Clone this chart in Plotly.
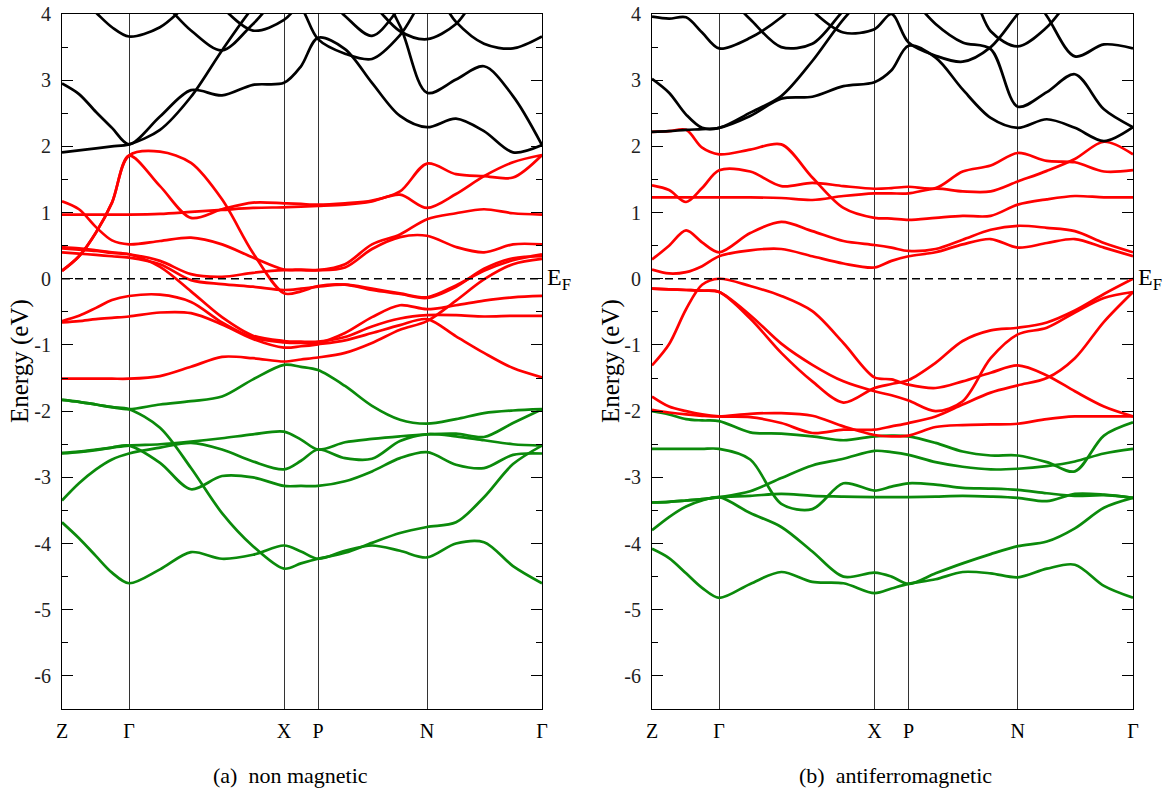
import plotly.graph_objects as go

# ---------------- k-path (common grid, arbitrary k-distance units) ----------------
K = [0, 17, 34, 50, 67, 98, 129, 160, 191, 222, 239, 256, 283, 310, 338, 365, 394, 422, 451, 480]
kpoint_pos = [0, 67, 222, 256, 365, 480]
kpoint_labels = ["Z", "Γ", "X", "P", "N", "Γ"]
y_tick_vals = [-6, -5, -4, -3, -2, -1, 0, 1, 2, 3, 4]
y_tick_text = ["-6", "-5", "-4", "-3", "-2", "-1", "0", "1", "2", "3", "4"]

# ---------------- (a) non magnetic ----------------
nm_black_1 = [1.91, 1.94, 1.97, 2.00, 2.03, 2.25, 2.75, 3.45, 4.10, 4.60, 4.80, 4.80, 4.80, 4.80, 4.80, 4.80, 4.80, 4.80, 4.80, 4.80]
nm_black_2 = [2.95, 2.79, 2.52, 2.28, 2.03, 2.45, 2.85, 2.77, 2.93, 2.96, 3.21, 3.64, 3.47, 2.96, 2.46, 2.29, 2.42, 2.23, 1.91, 2.02]
nm_black_3 = [4.40, 4.25, 4.02, 3.80, 3.66, 3.80, 4.20, 4.60, 4.60, 4.60, 4.60, 4.60, 4.60, 4.60, 4.60, 4.50, 3.88, 3.55, 3.48, 3.66]
nm_black_4 = [4.60, 4.60, 4.60, 4.55, 4.40, 4.20, 3.75, 3.45, 3.85, 4.30, 4.10, 3.62, 3.40, 3.32, 3.68, 4.30, 4.60, 4.60, 4.60, 4.60]
nm_black_5 = [4.60, 4.60, 4.60, 4.60, 4.60, 4.60, 4.60, 4.60, 4.60, 4.60, 4.60, 4.60, 4.40, 4.15, 3.74, 3.62, 3.85, 4.40, 4.60, 4.60]
nm_black_6 = [4.60, 4.60, 4.60, 4.60, 4.60, 4.60, 4.60, 4.60, 4.60, 4.60, 4.60, 4.60, 4.60, 4.50, 3.82, 2.81, 3.01, 3.21, 2.76, 2.02]
nm_black_7 = [4.60, 4.60, 4.60, 4.60, 4.60, 4.60, 4.60, 4.60, 4.60, 4.60, 4.60, 4.40, 3.97, 3.67, 4.10, 4.60, 4.60, 4.60, 4.60, 4.60]
nm_black_8 = [4.60, 4.60, 4.60, 4.60, 4.60, 4.60, 4.60, 4.10, 3.75, 3.91, 4.20, 4.60, 4.60, 4.60, 4.60, 4.60, 4.60, 4.60, 4.60, 4.60]

nm_red_1 = [0.97, 0.97, 0.97, 0.97, 0.97, 0.98, 1.01, 1.04, 1.07, 1.08, 1.09, 1.10, 1.12, 1.17, 1.27, 1.07, 1.28, 1.55, 1.76, 1.87]
nm_red_2 = [0.12, 0.34, 0.70, 1.15, 1.86, 1.40, 0.92, 1.05, 1.15, 1.14, 1.13, 1.12, 1.14, 1.18, 1.32, 1.74, 1.58, 1.55, 1.53, 1.87]
nm_red_3 = [0.12, 0.34, 0.70, 1.15, 1.86, 1.92, 1.75, 1.20, 0.39, -0.22, -0.19, -0.11, -0.09, -0.17, -0.23, -0.29, -0.12, 0.15, 0.31, 0.34]
nm_red_4 = [1.17, 1.05, 0.78, 0.58, 0.52, 0.57, 0.62, 0.52, 0.32, 0.14, 0.14, 0.13, 0.17, 0.45, 0.63, 0.65, 0.48, 0.40, 0.52, 0.52]
nm_red_5 = [0.46, 0.44, 0.42, 0.39, 0.37, 0.27, 0.07, 0.03, 0.09, 0.13, 0.13, 0.13, 0.22, 0.52, 0.67, 0.90, 0.99, 1.05, 0.99, 0.97]
nm_red_6 = [0.40, 0.38, 0.36, 0.34, 0.32, 0.22, -0.02, -0.08, -0.12, -0.17, -0.15, -0.12, -0.09, -0.15, -0.22, -0.28, -0.10, 0.12, 0.28, 0.37]
nm_red_7 = [0.48, 0.46, 0.43, 0.40, 0.37, 0.18, -0.19, -0.58, -0.86, -0.94, -0.95, -0.95, -0.88, -0.72, -0.60, -0.55, -0.55, -0.57, -0.56, -0.56]
nm_red_8 = [-0.64, -0.56, -0.44, -0.32, -0.26, -0.24, -0.35, -0.66, -0.89, -0.96, -0.97, -0.97, -0.82, -0.58, -0.40, -0.46, -0.40, -0.33, -0.28, -0.26]
nm_red_9 = [-0.66, -0.64, -0.61, -0.59, -0.57, -0.51, -0.52, -0.69, -0.91, -1.04, -1.02, -0.99, -0.93, -0.82, -0.70, -0.61, -0.87, -1.12, -1.35, -1.49]
nm_red_10 = [-1.51, -1.51, -1.51, -1.51, -1.51, -1.47, -1.33, -1.18, -1.20, -1.25, -1.22, -1.19, -1.12, -0.97, -0.77, -0.64, -0.33, -0.01, 0.22, 0.30]

nm_green_1 = [-1.83, -1.86, -1.90, -1.94, -1.97, -1.90, -1.85, -1.78, -1.52, -1.30, -1.33, -1.38, -1.62, -1.92, -2.13, -2.19, -2.12, -2.03, -1.99, -1.97]
nm_green_2 = [-1.83, -1.86, -1.90, -1.94, -1.97, -2.25, -2.86, -3.54, -4.04, -4.38, -4.30, -4.23, -4.14, -3.99, -3.84, -3.75, -3.68, -3.30, -2.80, -2.52]
nm_green_3 = [-2.63, -2.61, -2.58, -2.55, -2.52, -2.50, -2.46, -2.41, -2.35, -2.31, -2.43, -2.58, -2.47, -2.42, -2.38, -2.35, -2.34, -2.39, -2.18, -1.97]
nm_green_4 = [-2.64, -2.62, -2.59, -2.55, -2.52, -2.78, -3.18, -2.98, -3.00, -3.13, -3.13, -3.13, -3.06, -2.91, -2.71, -2.62, -2.81, -2.86, -2.66, -2.64]
nm_green_5 = [-3.35, -3.09, -2.88, -2.73, -2.64, -2.55, -2.48, -2.58, -2.76, -2.88, -2.75, -2.58, -2.71, -2.72, -2.45, -2.35, -2.38, -2.44, -2.50, -2.52]
nm_green_6 = [-3.68, -3.92, -4.19, -4.44, -4.60, -4.39, -4.13, -4.23, -4.17, -4.03, -4.12, -4.23, -4.11, -4.03, -4.11, -4.21, -4.00, -3.98, -4.34, -4.60]

# ---------------- (b) antiferromagnetic ----------------
af_black_1 = [2.22, 2.23, 2.25, 2.26, 2.28, 2.46, 2.72, 2.75, 2.91, 2.97, 3.15, 3.52, 3.34, 2.86, 2.43, 2.28, 2.41, 2.28, 2.08, 2.29]
af_black_2 = [3.02, 2.81, 2.48, 2.28, 2.28, 2.51, 2.76, 3.29, 3.92, 4.40, 4.60, 4.60, 4.60, 4.60, 4.60, 4.60, 4.60, 4.60, 4.60, 4.60]
af_black_3 = [3.96, 3.93, 3.95, 3.72, 3.48, 3.64, 3.95, 4.40, 4.60, 4.60, 4.60, 4.60, 4.60, 4.60, 4.60, 4.60, 3.97, 3.36, 3.54, 3.48]
af_black_4 = [4.60, 4.60, 4.60, 4.60, 4.40, 3.92, 3.50, 3.55, 4.05, 4.50, 4.60, 4.60, 4.60, 4.60, 4.60, 4.60, 4.60, 4.60, 4.60, 4.60]
af_black_5 = [4.60, 4.60, 4.60, 4.60, 4.60, 4.60, 4.60, 4.05, 3.72, 3.77, 4.00, 3.57, 3.37, 3.28, 3.50, 4.00, 4.50, 4.60, 4.60, 4.60]
af_black_6 = [4.60, 4.60, 4.60, 4.60, 4.60, 4.60, 4.60, 4.60, 4.60, 4.60, 4.60, 4.60, 4.60, 4.60, 3.74, 3.51, 3.80, 4.30, 4.60, 4.60]
af_black_7 = [4.60, 4.60, 4.60, 4.60, 4.60, 4.60, 4.60, 4.60, 4.60, 4.60, 4.60, 4.30, 3.85, 3.57, 3.47, 2.60, 2.82, 3.09, 2.56, 2.29]

af_red_1 = [2.22, 2.23, 2.25, 1.98, 1.88, 1.95, 2.03, 1.53, 1.07, 0.92, 0.91, 0.89, 0.92, 0.95, 0.95, 1.12, 1.20, 1.25, 1.23, 1.23]
af_red_2 = [1.41, 1.34, 1.16, 1.37, 1.64, 1.62, 1.40, 1.45, 1.40, 1.36, 1.37, 1.39, 1.37, 1.62, 1.71, 1.90, 1.78, 1.76, 1.62, 1.64]
af_red_3 = [1.23, 1.23, 1.23, 1.23, 1.23, 1.23, 1.22, 1.19, 1.25, 1.29, 1.29, 1.29, 1.36, 1.32, 1.32, 1.47, 1.63, 1.81, 2.07, 1.88]
af_red_4 = [0.29, 0.50, 0.73, 0.55, 0.40, 0.69, 0.86, 0.72, 0.57, 0.51, 0.47, 0.42, 0.45, 0.59, 0.74, 0.80, 0.77, 0.72, 0.54, 0.40]
af_red_5 = [0.14, 0.08, 0.10, 0.19, 0.34, 0.43, 0.45, 0.34, 0.23, 0.17, 0.27, 0.34, 0.40, 0.52, 0.60, 0.47, 0.54, 0.60, 0.47, 0.34]
af_red_6 = [-0.15, -0.16, -0.17, -0.18, -0.20, -0.60, -1.12, -1.55, -1.87, -1.65, -1.59, -1.53, -1.27, -0.94, -0.78, -0.74, -0.66, -0.48, -0.23, 0.00]
af_red_7 = [-0.15, -0.16, -0.17, -0.18, -0.20, -0.55, -0.98, -1.30, -1.55, -1.70, -1.76, -1.84, -2.00, -1.85, -1.20, -0.84, -0.74, -0.51, -0.29, -0.20]
af_red_8 = [-1.31, -0.99, -0.46, -0.09, 0.00, -0.11, -0.26, -0.49, -0.97, -1.49, -1.52, -1.60, -1.65, -1.55, -1.42, -1.31, -1.46, -1.70, -1.93, -2.08]
af_red_9 = [-1.78, -1.93, -2.00, -2.05, -2.08, -2.09, -2.18, -2.33, -2.28, -2.28, -2.23, -2.18, -2.08, -1.90, -1.72, -1.61, -1.50, -1.20, -0.65, -0.20]
af_red_10 = [-1.98, -2.02, -2.05, -2.07, -2.08, -2.04, -2.03, -2.07, -2.23, -2.36, -2.38, -2.37, -2.24, -2.21, -2.20, -2.19, -2.12, -2.08, -2.08, -2.08]

af_green_1 = [-2.00, -2.05, -2.12, -2.14, -2.15, -2.32, -2.34, -2.38, -2.44, -2.38, -2.37, -2.38, -2.48, -2.61, -2.67, -2.67, -2.77, -2.91, -2.37, -2.17]
af_green_2 = [-2.57, -2.57, -2.57, -2.57, -2.57, -2.73, -3.40, -3.48, -3.09, -3.20, -3.14, -3.09, -3.11, -3.16, -3.17, -3.19, -3.24, -3.28, -3.27, -3.31]
af_green_3 = [-3.38, -3.37, -3.35, -3.33, -3.30, -3.21, -3.01, -2.82, -2.72, -2.60, -2.62, -2.66, -2.77, -2.84, -2.88, -2.87, -2.83, -2.76, -2.64, -2.57]
af_green_4 = [-3.80, -3.60, -3.44, -3.35, -3.30, -3.54, -3.75, -4.12, -4.50, -4.44, -4.50, -4.61, -4.45, -4.30, -4.16, -4.04, -3.97, -3.77, -3.46, -3.31]
af_green_5 = [-4.08, -4.22, -4.45, -4.67, -4.82, -4.61, -4.43, -4.58, -4.60, -4.75, -4.68, -4.61, -4.54, -4.43, -4.45, -4.51, -4.38, -4.32, -4.64, -4.82]
af_green_6 = [-3.38, -3.37, -3.35, -3.33, -3.30, -3.28, -3.25, -3.28, -3.29, -3.30, -3.30, -3.30, -3.29, -3.28, -3.29, -3.31, -3.36, -3.25, -3.26, -3.31]

panel_captions = ["(a)  non magnetic", "(b)  antiferromagnetic"]

# ---------------- figure ----------------
GREEN = "#0b8a0b"
RED = "#ff0000"
BLACK = "#000000"
SERIF = "Liberation Serif"

panels = [
    {"xa": "x", "ya": "y",
     "green": [nm_green_1, nm_green_2, nm_green_3, nm_green_4, nm_green_5, nm_green_6],
     "red": [nm_red_1, nm_red_2, nm_red_3, nm_red_4, nm_red_5, nm_red_6, nm_red_7, nm_red_8, nm_red_9, nm_red_10],
     "black": [nm_black_1, nm_black_2, nm_black_3, nm_black_4, nm_black_5, nm_black_6, nm_black_7, nm_black_8]},
    {"xa": "x2", "ya": "y2",
     "green": [af_green_1, af_green_2, af_green_3, af_green_4, af_green_5, af_green_6],
     "red": [af_red_1, af_red_2, af_red_3, af_red_4, af_red_5, af_red_6, af_red_7, af_red_8, af_red_9, af_red_10],
     "black": [af_black_1, af_black_2, af_black_3, af_black_4, af_black_5, af_black_6, af_black_7]},
]

fig = go.Figure()
for p in panels:
    for key, col in (("green", GREEN), ("red", RED), ("black", BLACK)):
        for band in p[key]:
            fig.add_trace(go.Scatter(
                x=K, y=band, mode="lines", xaxis=p["xa"], yaxis=p["ya"],
                line=dict(color=col, width=2.7, shape="spline", smoothing=0.9),
                showlegend=False, hoverinfo="skip"))

W, H = 1167, 791
def px_x(v):
    return v / W
def px_y(v):
    return 1 - v / H

xdomains = [[px_x(62), px_x(542)], [px_x(652), px_x(1133)]]
ydomain = [px_y(709), px_y(14)]

def xaxis_cfg(dom, anchor):
    return dict(domain=dom, anchor=anchor, range=[0, 480], tickmode="array", tickvals=kpoint_pos,
                ticktext=kpoint_labels, ticks="", showgrid=True, gridcolor="#333333",
                gridwidth=1, showline=True, linecolor="black", linewidth=1.2, mirror=True,
                zeroline=False, tickfont=dict(family=SERIF, size=20, color="black"),
                ticklabelstandoff=4, fixedrange=True, automargin=False)

def yaxis_cfg(anchor):
    return dict(domain=ydomain, anchor=anchor, range=[-6.5, 4], tickmode="array",
                tickvals=y_tick_vals, ticktext=y_tick_text, ticks="inside", ticklen=11,
                tickwidth=1, tickcolor="black",
                minor=dict(tickmode="linear", tick0=0.5, dtick=1, ticks="inside",
                           ticklen=6, tickwidth=1, tickcolor="black", showgrid=False),
                showline=True, linecolor="black", linewidth=1.2, mirror="ticks",
                showgrid=False, zeroline=False,
                tickfont=dict(family=SERIF, size=20, color="#222222"),
                ticklabelstandoff=6, fixedrange=True, automargin=False)

shapes = []
for xa in ("x", "x2"):
    ya = "y" if xa == "x" else "y2"
    shapes.append(dict(type="line", xref=xa, yref=ya, x0=0, x1=480, y0=0, y1=0,
                       line=dict(color="black", width=1.6, dash="8px,5px"), layer="above"))

annotations = []
for i, xa in enumerate(("x", "x2")):
    ya = "y" if xa == "x" else "y2"
    annotations.append(dict(text="E<sub>F</sub>", xref="paper", yref=ya,
                            x=px_x(545 if i == 0 else 1136), y=0, xanchor="left", yanchor="middle",
                            showarrow=False, font=dict(family=SERIF, size=24, color="black")))
    annotations.append(dict(text="Energy (eV)", xref="paper", yref="paper",
                            x=px_x(20 if i == 0 else 611), y=px_y(361), textangle=-90,
                            xanchor="center", yanchor="middle", showarrow=False,
                            font=dict(family=SERIF, size=25, color="black")))
    annotations.append(dict(text=panel_captions[i], xref="paper", yref="paper",
                            x=px_x(290 if i == 0 else 895), y=px_y(775),
                            xanchor="center", yanchor="middle", showarrow=False,
                            font=dict(family=SERIF, size=22, color="black")))

fig.update_layout(
    width=W, height=H, margin=dict(l=0, r=0, t=0, b=0, autoexpand=False),
    paper_bgcolor="white", plot_bgcolor="white",
    xaxis=xaxis_cfg(xdomains[0], "y"), xaxis2=xaxis_cfg(xdomains[1], "y2"),
    yaxis=yaxis_cfg("x"), yaxis2=yaxis_cfg("x2"),
    shapes=shapes, annotations=annotations, showlegend=False,
)

fig.write_html("out.html", config={"displayModeBar": False},
               post_script="document.body.style.margin='0';document.body.style.overflow='hidden';")
